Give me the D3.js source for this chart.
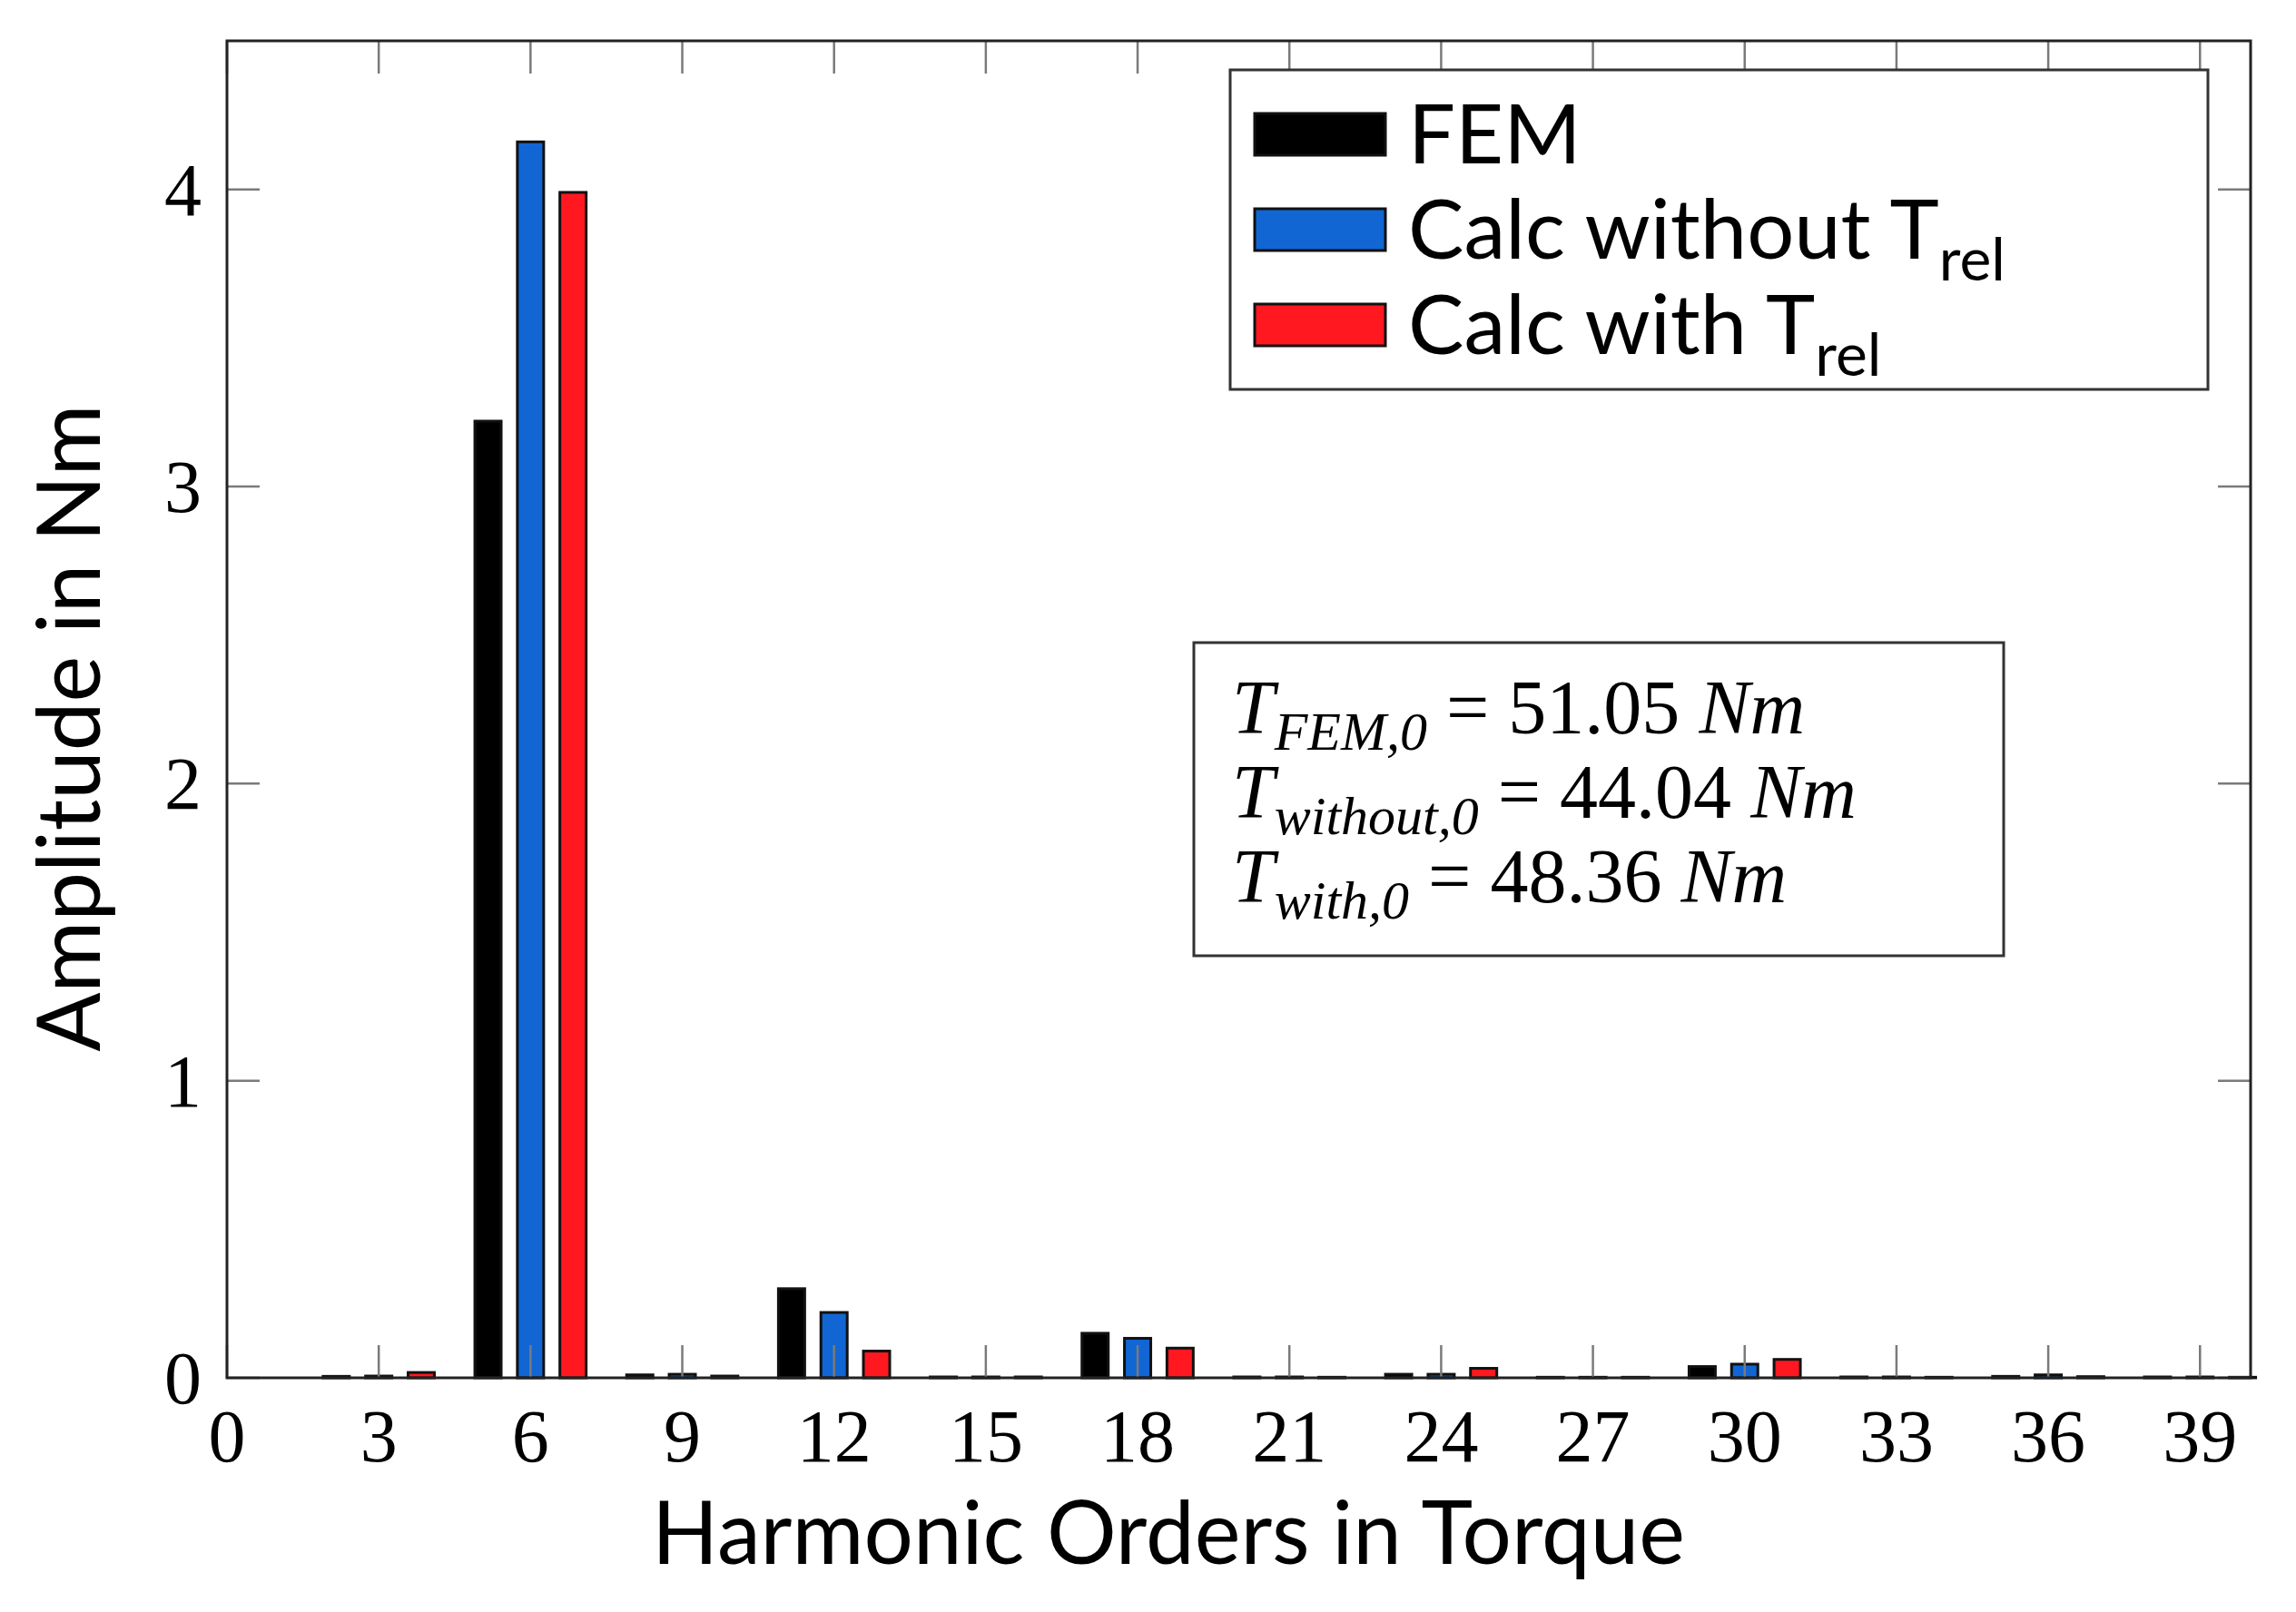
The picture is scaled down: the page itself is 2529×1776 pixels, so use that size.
<!DOCTYPE html>
<html>
<head>
<meta charset="utf-8">
<script src="https://cdn.jsdelivr.net/npm/d3@7"></script>
<style>
  body { margin: 0; background: #fff; }
  svg { display: block; }
</style>
</head>
<body>
<svg width="2529" height="1776"></svg>
<script>
// harmonic orders and amplitudes (Nm)
var orders = [3, 6, 9, 12, 15, 18, 21, 24, 27, 30, 33, 36, 39];
var femVals = [0.005, 3.22, 0.010, 0.30, 0.003, 0.15, 0.003, 0.012, 0.002, 0.038, 0.003, 0.005, 0.003];
var withoutVals = [0.006, 4.16, 0.012, 0.22, 0.003, 0.133, 0.003, 0.012, 0.002, 0.046, 0.003, 0.010, 0.003];
var withVals = [0.018, 3.99, 0.006, 0.09, 0.003, 0.10, 0.002, 0.032, 0.002, 0.062, 0.002, 0.004, 0.002];
var seriesNames = ["FEM", "Calc without T", "Calc with T"];
var seriesColors = ["#000000", "#1166d4", "#ff1820"];
var xTicks = d3.range(0, 40, 3);
var yTicks = [0, 1, 2, 3, 4];
var dcLines = [["FEM,0", "51.05"], ["without,0", "44.04"], ["with,0", "48.36"]];

var svg = d3.select("svg"),
    margin = {top: 45, right: 50, bottom: 258, left: 250},
    width = +svg.attr("width") - margin.left - margin.right,
    height = +svg.attr("height") - margin.top - margin.bottom;

var x = d3.scaleLinear().domain([0, 40]).range([0, width]),
    y = d3.scaleLinear().domain([0, 4.5]).range([height, 0]);

var serif = "'Liberation Serif', 'DejaVu Serif', serif",
    sans = "Lato, 'Open Sans', sans-serif";

var g = svg.append("g")
    .attr("transform", "translate(" + margin.left + "," + margin.top + ")");

var series = [femVals, withoutVals, withVals];
var offset = 0.84, barW = 0.52;

series.forEach(function(vals, si) {
  g.selectAll(".bar" + si)
    .data(orders.map(function(o, i) { return {order: o, v: vals[i]}; }))
    .enter().append("rect")
    .attr("x", function(d) { return x(d.order + (si - 1) * offset - barW / 2); })
    .attr("width", x(barW) - x(0))
    .attr("y", function(d) { return y(d.v); })
    .attr("height", function(d) { return y(0) - y(d.v); })
    .attr("fill", seriesColors[si])
    .attr("stroke", "#111")
    .attr("stroke-width", 3);
});

// ticks inside on all four sides, grey
var tickLen = 36;
var tk = g.append("g").attr("stroke", "#7a7a7a").attr("stroke-width", 2.5);
xTicks.forEach(function(t) {
  tk.append("line").attr("x1", x(t)).attr("x2", x(t)).attr("y1", height).attr("y2", height - tickLen);
  tk.append("line").attr("x1", x(t)).attr("x2", x(t)).attr("y1", 0).attr("y2", tickLen);
});
yTicks.forEach(function(t) {
  tk.append("line").attr("x1", 0).attr("x2", tickLen).attr("y1", y(t)).attr("y2", y(t));
  tk.append("line").attr("x1", width).attr("x2", width - tickLen).attr("y1", y(t)).attr("y2", y(t));
});

// frame
g.append("rect")
    .attr("width", width)
    .attr("height", height)
    .attr("fill", "none")
    .attr("stroke", "#222")
    .attr("stroke-width", 3);

// tick labels
g.selectAll(".xlab").data(xTicks).enter().append("text")
    .attr("x", function(d) { return x(d); })
    .attr("y", height + 92)
    .attr("text-anchor", "middle")
    .style("font-family", serif)
    .style("font-size", "82px")
    .text(function(d) { return d; });

g.selectAll(".ylab").data(yTicks).enter().append("text")
    .attr("x", -28)
    .attr("y", function(d) { return y(d) + 28; })
    .attr("text-anchor", "end")
    .style("font-family", serif)
    .style("font-size", "82px")
    .text(function(d) { return d; });

// axis titles
svg.append("text")
    .attr("x", 1287)
    .attr("y", 1723)
    .attr("text-anchor", "middle")
    .style("font-family", sans)
    .style("font-size", "96px")
    .text("Harmonic Orders in Torque");

svg.append("text")
    .attr("transform", "translate(110,802)rotate(-90)")
    .attr("text-anchor", "middle")
    .style("font-family", sans)
    .style("font-size", "96px")
    .text("Amplitude in Nm");

// legend
var legend = svg.append("g").attr("transform", "translate(1355,77)");
legend.append("rect")
    .attr("width", 1077).attr("height", 352)
    .attr("fill", "#fff").attr("stroke", "#333").attr("stroke-width", 3);

seriesNames.forEach(function(name, i) {
  var cy = 71 + i * 105;
  legend.append("rect")
    .attr("x", 27).attr("y", cy - 23)
    .attr("width", 144).attr("height", 46)
    .attr("fill", seriesColors[i])
    .attr("stroke", "#111").attr("stroke-width", 3);
  var t = legend.append("text")
    .attr("x", 196).attr("y", cy + 32)
    .style("font-family", sans)
    .style("font-size", "92px")
    .text(name);
  if (i > 0) {
    t.append("tspan")
      .attr("dy", 24)
      .style("font-size", "66px")
      .text("rel");
  }
});

// DC component box
var box = svg.append("g").attr("transform", "translate(1315,708)");
box.append("rect")
    .attr("width", 892).attr("height", 345)
    .attr("fill", "#fff").attr("stroke", "#333").attr("stroke-width", 3);

dcLines.forEach(function(l, i) {
  var t = box.append("text")
    .attr("x", 42).attr("y", 100 + i * 93)
    .style("font-family", serif)
    .style("font-size", "84px");
  t.append("tspan").style("font-style", "italic").text("T");
  t.append("tspan").attr("dy", 18).style("font-style", "italic").style("font-size", "60px").text(l[0]);
  t.append("tspan").attr("dy", -18).text(" = " + l[1] + " ");
  t.append("tspan").style("font-style", "italic").text("Nm");
});
</script>
</body>
</html>
